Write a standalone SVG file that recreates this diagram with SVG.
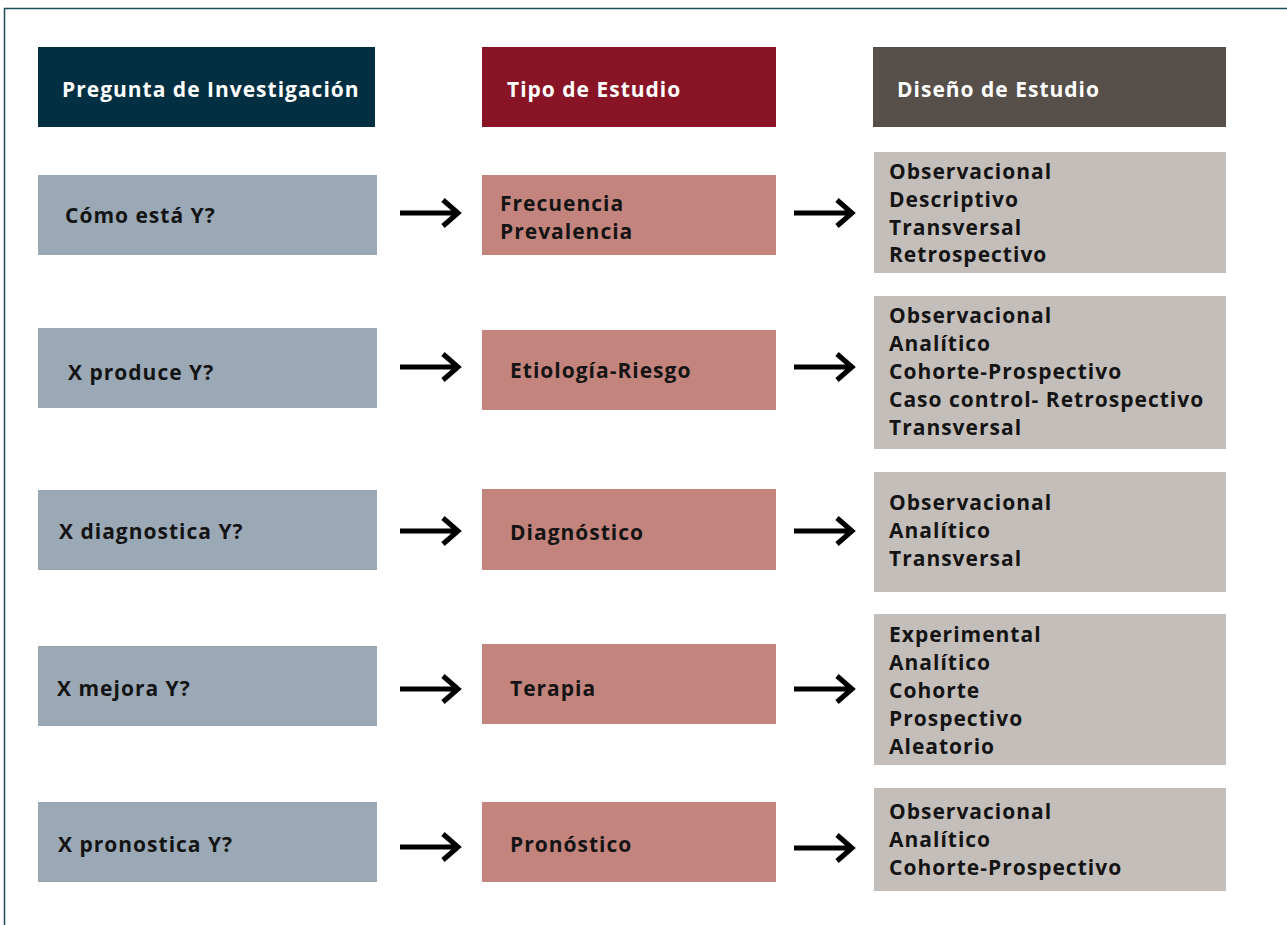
<svg xmlns="http://www.w3.org/2000/svg" width="1287" height="925" viewBox="0 0 1287 925">
<defs>
<style>
text{font-family:"Open Sans","Noto Sans","DejaVu Sans",sans-serif;font-weight:700;font-size:21px;letter-spacing:1px;fill:#141414}
.hd{fill:#ffffff}
.q{fill:#9ba9b6}
.t{fill:#c4847e}
.d{fill:#c4bebb}
.arr{stroke:#000;stroke-width:5;fill:none}
</style>
<g id="arrow"><path d="M0,0 H58 M43,-13 L58,0 L43,13"/></g>
</defs>
<rect width="1287" height="925" fill="#ffffff"/>
<path d="M4.5,925 V8.5 H1287" fill="none" stroke="#1d4d5c" stroke-width="1.5"/>

<g id="header-pregunta"><rect x="38" y="47" width="337" height="80" fill="#032f42"/><text class="hd" x="62" y="97">Pregunta de Investigación</text></g>
<g id="header-tipo"><rect x="482" y="47" width="294" height="80" fill="#891426"/><text class="hd" x="507" y="97">Tipo de Estudio</text></g>
<g id="header-diseno"><rect x="873" y="47" width="353" height="80" fill="#574f49"/><text class="hd" x="897" y="97">Diseño de Estudio</text></g>

<g id="q1"><rect class="q" x="38" y="175" width="339" height="80"/><text x="65" y="223">Cómo está Y?</text></g>
<g id="q2"><rect class="q" x="38" y="328" width="339" height="80"/><text x="68" y="380">X produce Y?</text></g>
<g id="q3"><rect class="q" x="38" y="490" width="339" height="80"/><text x="59" y="539">X diagnostica Y?</text></g>
<g id="q4"><rect class="q" x="38" y="646" width="339" height="80"/><text x="57" y="696">X mejora Y?</text></g>
<g id="q5"><rect class="q" x="38" y="802" width="339" height="80"/><text x="58" y="852">X pronostica Y?</text></g>

<g id="t1"><rect class="t" x="482" y="175" width="294" height="80"/><text x="500" y="211">Frecuencia</text><text x="500" y="239">Prevalencia</text></g>
<g id="t2"><rect class="t" x="482" y="330" width="294" height="80"/><text x="510" y="378">Etiología-Riesgo</text></g>
<g id="t3"><rect class="t" x="482" y="489" width="294" height="81"/><text x="510" y="540">Diagnóstico</text></g>
<g id="t4"><rect class="t" x="482" y="644" width="294" height="80"/><text x="510" y="696">Terapia</text></g>
<g id="t5"><rect class="t" x="482" y="802" width="294" height="80"/><text x="510" y="852">Pronóstico</text></g>

<g id="d1"><rect class="d" x="874" y="152" width="352" height="121"/>
<text x="889" y="179">Observacional</text><text x="889" y="207">Descriptivo</text><text x="889" y="235">Transversal</text><text x="889" y="262">Retrospectivo</text></g>
<g id="d2"><rect class="d" x="874" y="296" width="352" height="153"/>
<text x="889" y="323">Observacional</text><text x="889" y="351">Analítico</text><text x="889" y="379">Cohorte-Prospectivo</text><text x="889" y="407">Caso control- Retrospectivo</text><text x="889" y="435">Transversal</text></g>
<g id="d3"><rect class="d" x="874" y="472" width="352" height="120"/>
<text x="889" y="510">Observacional</text><text x="889" y="538">Analítico</text><text x="889" y="566">Transversal</text></g>
<g id="d4"><rect class="d" x="874" y="614" width="352" height="151"/>
<text x="889" y="642">Experimental</text><text x="889" y="670">Analítico</text><text x="889" y="698">Cohorte</text><text x="889" y="726">Prospectivo</text><text x="889" y="754">Aleatorio</text></g>
<g id="d5"><rect class="d" x="874" y="788" width="352" height="103"/>
<text x="889" y="819">Observacional</text><text x="889" y="847">Analítico</text><text x="889" y="875">Cohorte-Prospectivo</text></g>

<g id="connectors" class="arr">
<use href="#arrow" x="400" y="213"/><use href="#arrow" x="794" y="213"/>
<use href="#arrow" x="400" y="367"/><use href="#arrow" x="794" y="367"/>
<use href="#arrow" x="400" y="531"/><use href="#arrow" x="794" y="531"/>
<use href="#arrow" x="400" y="689"/><use href="#arrow" x="794" y="689"/>
<use href="#arrow" x="400" y="847"/><use href="#arrow" x="794" y="848"/>
</g>
</svg>
